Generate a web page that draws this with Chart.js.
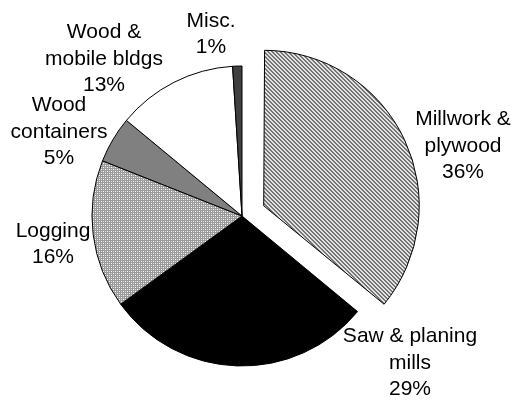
<!DOCTYPE html>
<html>
<head>
<meta charset="utf-8">
<script src="https://cdn.jsdelivr.net/npm/chart.js@4.4.0/dist/chart.umd.min.js"></script>
<style>
  html, body { margin: 0; padding: 0; background: #fff; }
  #wrap { width: 514px; height: 403px; position: relative; }
</style>
</head>
<body>
<div id="wrap"><canvas id="pie"></canvas></div>
<script>
// Wood products breakdown (percent)
const categories = ['Millwork & plywood', 'Saw & planing mills', 'Logging', 'Wood containers', 'Wood & mobile bldgs', 'Misc.'];
const shares = [36, 29, 16, 5, 13, 1];
// how each label wraps onto lines
const labelLines = [
  ['Millwork &', 'plywood'],
  ['Saw & planing', 'mills'],
  ['Logging'],
  ['Wood', 'containers'],
  ['Wood &', 'mobile bldgs'],
  ['Misc.']
];

// label block centres, relative to pie centre (layout only)
const labelAnchor = [[221, -70], [168, 147], [-189, 28], [-183, -84], [-138, -157], [-31, -182]];

// little pixel tiles for the hatched fills
function makePattern(rows, colors){
  const c = document.createElement('canvas');
  c.width = rows[0].length; c.height = rows.length;
  const g = c.getContext('2d');
  rows.forEach((r, y)=>{
    for(let x = 0; x < r.length; x++){
      g.fillStyle = colors[r[x]];
      g.fillRect(x, y, 1, 1);
    }
  });
  return g.createPattern(c, 'repeat');
}

const ctx = document.getElementById('pie').getContext('2d');

const diag = makePattern([
  'DDLL',
  'LDDL',
  'LLDD',
  'DLLD'
], {D: '#5a5a5a', L: '#ffffff'});

const grid = makePattern([
  'MMMM',
  'MWML',
  'MMMM',
  'MLMW'
], {M: '#9a9a9a', W: '#ffffff', L: '#d8d8d8'});

const fills = [diag, '#000000', grid, '#808080', '#ffffff', '#404040'];

const labelPlugin = {
  id: 'sliceLabels',
  afterDraw(chart){
    const arc = chart.getDatasetMeta(0).data[0];
    const cx = arc.x, cy = arc.y;
    const c = chart.ctx;
    c.save();
    c.font = "21px 'Liberation Sans', Arial, sans-serif";
    c.fillStyle = '#000';
    c.textAlign = 'center';
    c.textBaseline = 'middle';
    const lh = 26.5;
    labelLines.forEach((lines, i)=>{
      const all = lines.concat([shares[i] + '%']);
      const x = cx + labelAnchor[i][0];
      const y0 = cy + labelAnchor[i][1] - (all.length - 1) * lh / 2;
      all.forEach((t, k)=> c.fillText(t, x, y0 + k * lh));
    });
    c.restore();
  }
};

new Chart(ctx, {
  type: 'pie',
  data: {
    labels: categories,
    datasets: [{
      data: shares,
      backgroundColor: fills,
      borderColor: '#000',
      borderWidth: 1,
      // chart.js pushes the slice out by offset/4, so ~24px
      offset: [96, 0, 0, 0, 0, 0],
      hoverOffset: 0,
      radius: 150
    }]
  },
  options: {
    responsive: true,
    maintainAspectRatio: false,
    animation: false,
    layout: { padding: { left: 0, right: 30, top: 29, bottom: 0 } },
    plugins: { legend: { display: false }, tooltip: { enabled: false } }
  },
  plugins: [labelPlugin]
});
</script>
</body>
</html>
